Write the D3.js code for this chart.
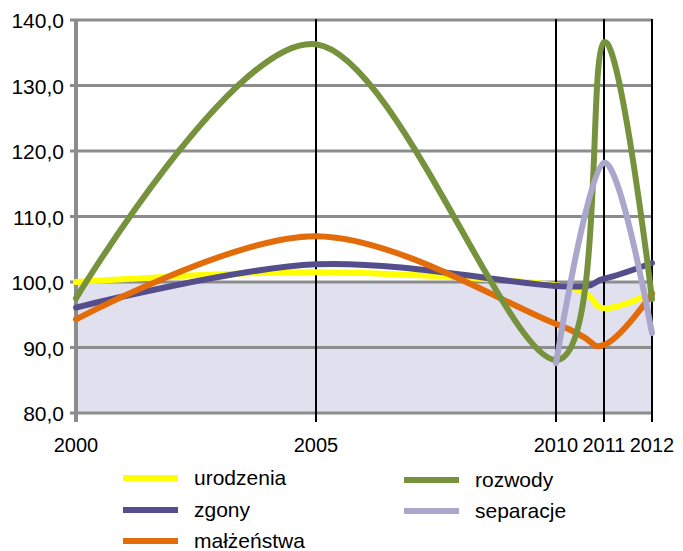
<!DOCTYPE html>
<html><head><meta charset="utf-8">
<script src="https://cdn.jsdelivr.net/npm/d3@7/dist/d3.min.js"></script>
<style>body{margin:0;background:#fff}svg{display:block;font-family:"Liberation Sans",Arial,sans-serif}</style>
</head><body><svg id="c" width="683" height="551"></svg>
<script>
const years = [2000, 2005, 2010, 2011, 2012];
const yTicks = [80, 90, 100, 110, 120, 130, 140];
const urodzenia = [100.0, 101.5, 99.5, 96.0, 98.4];
const zgony = [96.1, 102.7, 99.4, 100.5, 102.9];
const malzenstwa = [94.3, 107.0, 93.6, 90.4, 98.2];
const rozwody = [97.5, 136.3, 88.1, 136.6, 97.4];
const separacjeYears = [2010, 2011, 2012];
const separacje = [87.6, 118.2, 92.2];
const seriesNames = ["urodzenia", "zgony", "małżeństwa", "rozwody", "separacje"];
const seriesColors = ["#ffff00", "#544e8c", "#e36c0a", "#76923c", "#aaa6cc"];
const baseline = 100;

const svg = d3.select("#c");
const x = d3.scaleLinear().domain([2000, 2012]).range([76, 652]);
const y = d3.scaleLinear().domain([80, 140]).range([413, 20]);

svg.append("path")
  .datum([2000, 2012])
  .attr("fill", "#e0e0ee")
  .attr("d", d3.area().x(d => x(d)).y0(y(80)).y1(y(baseline)));

svg.append("g").selectAll("line").data(yTicks).join("line")
  .attr("x1", 70).attr("x2", 652)
  .attr("y1", d => y(d)).attr("y2", d => y(d))
  .attr("stroke", "#8c8c8c").attr("stroke-width", 3);

svg.append("line").attr("x1", x(2000)).attr("x2", x(2000))
  .attr("y1", y(140) - 1).attr("y2", 422)
  .attr("stroke", "#8c8c8c").attr("stroke-width", 4);

svg.append("g").selectAll("line").data(years.slice(1)).join("line")
  .attr("x1", d => x(d)).attr("x2", d => x(d))
  .attr("y1", y(140) - 1).attr("y2", 422)
  .attr("stroke", "#000").attr("stroke-width", 2);

svg.append("g").selectAll("text").data(yTicks).join("text")
  .attr("x", 64).attr("y", d => y(d) + 8)
  .attr("text-anchor", "end").attr("font-size", 21).attr("fill", "#000")
  .text(d => d.toFixed(1).replace(".", ","));

svg.append("g").selectAll("text").data(years).join("text")
  .attr("x", d => x(d)).attr("y", 452)
  .attr("text-anchor", "middle").attr("font-size", 20).attr("fill", "#000")
  .text(d => d);

const line = d3.line().x(d => x(d[0])).y(d => y(d[1])).curve(d3.curveCardinal.tension(0));
const data = [
  years.map((yr, i) => [yr, urodzenia[i]]),
  years.map((yr, i) => [yr, zgony[i]]),
  years.map((yr, i) => [yr, malzenstwa[i]]),
  years.map((yr, i) => [yr, rozwody[i]]),
  separacjeYears.map((yr, i) => [yr, separacje[i]])
];
[0, 1, 2, 3, 4].forEach(i => {
  svg.append("path").datum(data[i])
    .attr("fill", "none").attr("stroke", seriesColors[i])
    .attr("stroke-width", 6).attr("stroke-linecap", "round").attr("stroke-linejoin", "round")
    .attr("d", line);
});

const legendPos = [[123, 478], [123, 510], [123, 541], [404, 480], [404, 511]];
seriesNames.forEach((n, i) => {
  const [lx, ly] = legendPos[i];
  svg.append("line").attr("x1", lx).attr("x2", lx + 55).attr("y1", ly).attr("y2", ly)
    .attr("stroke", seriesColors[i]).attr("stroke-width", 6);
  svg.append("text").attr("x", lx + 71).attr("y", ly + 7)
    .attr("font-size", 21).attr("fill", "#000").text(n);
});
</script></body></html>
